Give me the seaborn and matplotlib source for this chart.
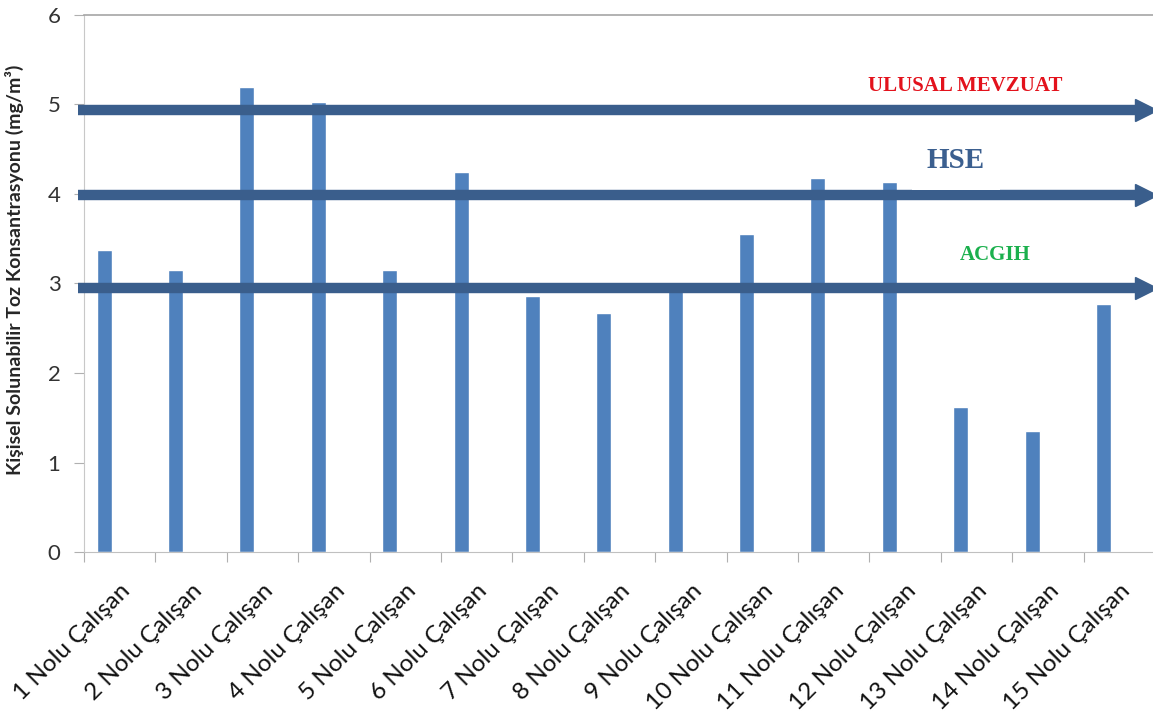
import matplotlib
matplotlib.use("Agg")
import matplotlib.pyplot as plt
import seaborn as sns
import numpy as np
import pandas as pd

# veriler
calisanlar = [f"{i} Nolu Çalışan" for i in range(1, 16)]
konsantrasyon = [3.37, 3.15, 5.20, 5.03, 3.15, 4.25, 2.86, 2.67, 2.95,
                 3.55, 4.18, 4.13, 1.62, 1.35, 2.77]
limit_adlari = ["ULUSAL MEVZUAT", "HSE", "ACGIH"]
limit_degerleri = [4.94, 3.99, 2.95]
y_ticks = [0, 1, 2, 3, 4, 5, 6]

bar_renk = "#4f81bd"
ok_renk = "#3a5e8c"
yazi_renkleri = ["#e3121c", "#3b5f8f", "#1bb04d"]

sns.set_style("white")
plt.rcParams["font.family"] = ["Lato", "DejaVu Sans"]

df = pd.DataFrame({"Calisan": calisanlar, "Deger": konsantrasyon})

fig = plt.figure(figsize=(11.53, 7.27), dpi=100)
ax = fig.add_axes([0.0729, 0.2407, 0.9288, 0.7387])

sns.barplot(data=df, x="Calisan", y="Deger", color=bar_renk, saturation=1,
            width=0.21, ax=ax, zorder=2)

n = len(calisanlar)
ax.set_xlim(-0.28, n - 0.28)
ax.set_ylim(0, 6)

# eksen cizgileri
ax.spines["right"].set_visible(False)
ax.spines["left"].set_color("#c8c8c8")
ax.spines["bottom"].set_color("#c0c0c0")
ax.spines["top"].set_color("#a6a6a6")
ax.spines["top"].set_linewidth(1.2)

ax.set_yticks(y_ticks)
ax.tick_params(axis="y", length=7, color="#b0b0b0", labelsize=16, pad=10,
               labelcolor="#333333", left=True)

# kategori sinirlarinda tik, ortada etiket
ax.set_xticks(np.arange(n + 1) - 0.28)
ax.set_xticklabels([])
ax.set_xticks(np.arange(n) + 0.22, minor=True)
ax.set_xticklabels(calisanlar, minor=True, rotation=45, ha="right",
                   rotation_mode="anchor", fontsize=17.5)
ax.tick_params(axis="x", which="major", length=7, color="#b0b0b0", bottom=True)
ax.tick_params(axis="x", which="minor", length=0, pad=20, bottom=True,
               labelcolor="#111111")

ax.set_xlabel("")
ax.set_ylabel("Kişisel Solunabilir Toz Konsantrasyonu (mg/m³)", fontsize=14,
              fontweight="bold")
ax.yaxis.set_label_coords(-0.056, 0.526)

# limit oklari
tr = ax.get_yaxis_transform()
for y in limit_degerleri:
    ax.plot([-0.006, 0.985], [y, y], transform=tr, color=ok_renk, lw=7.5,
            solid_capstyle="butt", clip_on=False, zorder=4)
    ax.plot([0.992], [y], transform=tr, marker=">", ms=16, color=ok_renk,
            mec=ok_renk, clip_on=False, zorder=4)

# etiketler
etiket_konum = [(0.823, 5.21, 15), (0.814, 4.37, 21), (0.851, 3.32, 15)]
for ad, renk, (x, y, fs) in zip(limit_adlari, yazi_renkleri, etiket_konum):
    bbox = None
    if ad == "HSE":
        bbox = dict(facecolor="white", edgecolor="none", pad=11)
    ax.text(x, y, ad, transform=tr, color=renk, fontsize=fs, fontweight="bold",
            family="Liberation Serif", ha="center", va="center", bbox=bbox,
            zorder=5)

plt.savefig("out.png", dpi=100)
plt.close()
